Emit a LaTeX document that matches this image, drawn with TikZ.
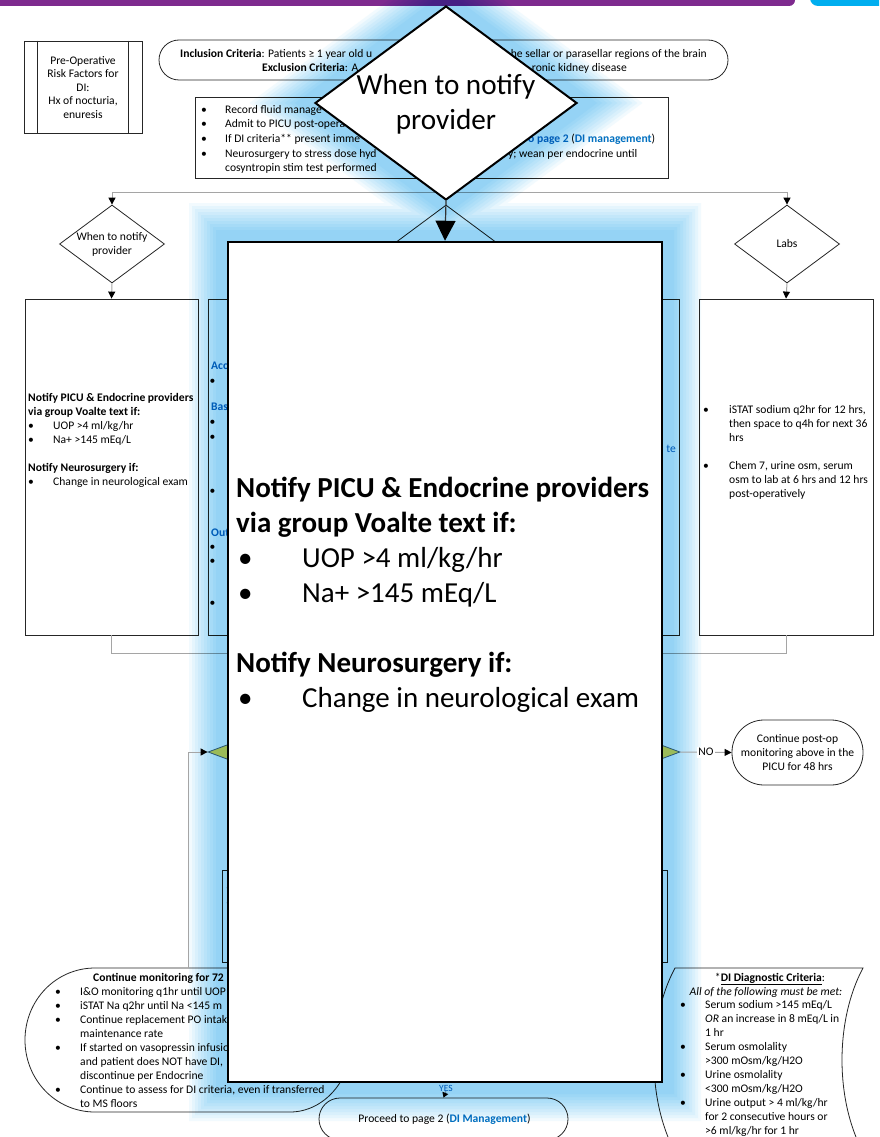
\documentclass[tikz,border=0pt]{standalone}
\usepackage{fontspec}
\setmainfont{Carlito}
\usetikzlibrary{shapes.geometric,arrows.meta}

\definecolor{linkblue}{RGB}{0,112,192}
\definecolor{barpurple}{RGB}{126,42,142}
\definecolor{barcyan}{RGB}{0,174,239}
\definecolor{glowblue}{RGB}{213,241,253}
\definecolor{connector}{RGB}{165,165,165}
\definecolor{decgreen}{RGB}{155,187,89}
\definecolor{decedge}{RGB}{40,85,115}

\newcommand{\fsmall}{\fontsize{11.6}{14}\selectfont}
\newcommand{\ftiny}{\fontsize{9.5}{11}\selectfont}
\newcommand{\fbig}{\fontsize{29}{35}\selectfont}
\newcommand{\fhuge}{\fontsize{29.2}{35}\selectfont}
\newcommand{\bulitem}[2]{\makebox[#1][l]{\textbullet}#2}

\tikzset{
  shapeline/.style={draw=black!85, line width=0.8pt, inner sep=0pt},
  dia/.style={shapeline, diamond},
  txt/.style={inner sep=0pt, anchor=base west, font=\fsmall},
  ctxt/.style={inner sep=0pt, anchor=base, font=\fsmall},
  etxt/.style={inner sep=0pt, anchor=base east, font=\fsmall},
  bigtxt/.style={inner sep=0pt, anchor=base west, font=\fbig},
  conn/.style={draw=connector, line width=1pt},
  arrowhd/.style={-{Triangle[length=7pt,width=7pt,color=black]}},
}

\begin{document}
\begin{tikzpicture}[x=1pt,y=-1pt]
\useasboundingbox (0,0) rectangle (879,1137);
\clip (0,0) rectangle (879,1137);
\fill[white] (0,0) rectangle (879,1137);

% header bars
\fill[barpurple, rounded corners=6pt] (-10,-10) rectangle (795,6);
\fill[barcyan, rounded corners=8pt] (810,-10) rectangle (889,6);

% ---------------- flowchart page ----------------
% pre-operative risk factors
\node[shapeline, minimum width=118pt, minimum height=92pt] (preop) at (83,87) {};
\draw[shapeline] ([xshift=14pt]preop.north west) -- ([xshift=14pt]preop.south west);
\draw[shapeline] ([xshift=-14pt]preop.north east) -- ([xshift=-14pt]preop.south east);
\foreach \y/\t [count=\i] in {64.5/Pre-Operative, 78/{Risk Factors for}, 91.5/DI:, 105/{Hx of nocturia,}, 118.5/enuresis}
  \node[ctxt] (pre\i) at (83,\y) {\t};

% inclusion / exclusion criteria
\node[shapeline, rounded corners=20pt, minimum width=569pt, minimum height=40pt] (incl) at (443.5,60) {};
\node[txt] (inca) at (180,57.5) {\textbf{Inclusion Criteria}: Patients ≥ 1 year old u};
\node[etxt] (incb) at (707,57.5) {he sellar or parasellar regions of the brain};
\node[txt] (exca) at (262,71.5) {\textbf{Exclusion Criteria}: A};
\node[etxt] (excb) at (627,71.5) {ronic kidney disease};

% initial orders
\node[shapeline, minimum width=473pt, minimum height=81pt] (plan) at (431.5,137.5) {};
\node[txt] (pl1) at (201,113.5) {\bulitem{24pt}{Record fluid manage}};
\node[txt] (pl2) at (201,127.5) {\bulitem{24pt}{Admit to PICU post-opera}};
\node[txt] (pl3) at (201,142.5) {\bulitem{24pt}{If DI criteria** present imme}};
\node[txt] (pl3b) at (528,142.5) {\textcolor{linkblue}{\textbf{o page 2}} (\textcolor{linkblue}{\textbf{DI management}})};
\node[txt] (pl4) at (201,157.5) {\bulitem{24pt}{Neurosurgery to stress dose hyd}};
\node[txt] (pl4b) at (508,157.5) {y; wean per endocrine until};
\node[txt] (pl5) at (225,171.5) {cosyntropin stim test performed};

% three branches
\node[dia, minimum width=105pt, minimum height=78pt] (d1) at (112,244) {};
\node[ctxt] (d1a) at (112,240.5) {When to notify};
\node[ctxt] (d1b) at (112,254.5) {provider};
\node[dia, minimum width=105pt, minimum height=78pt] (d2) at (446,244) {};
\node[dia, minimum width=105pt, minimum height=78pt] (d3) at (787,244) {};
\node[ctxt] (d3a) at (787,247.5) {Labs};

\coordinate (busL) at (112,192);
\coordinate (busR) at (787,192);
\draw[conn] (busL) -- (busR);
\draw[conn, arrowhd] (busL) -- (d1.north);
\draw[conn, arrowhd] (busR) -- (d3.north);

\node[shapeline, minimum width=173pt, minimum height=336pt] (box1) at (111.5,467) {};
\node[shapeline, minimum width=471pt, minimum height=336pt] (box2) at (443.5,467) {};
\node[shapeline, minimum width=174pt, minimum height=336pt] (box3) at (786,467) {};
\draw[conn, arrowhd] (d1.south) -- (box1.north);
\draw[conn, arrowhd] (d3.south) -- (box3.north);
\draw[conn] (box1.south) -- ++(0,18) -| (box3.south);

% notification box
\node[txt] (n1) at (28,401) {\textbf{Notify PICU \& Endocrine providers}};
\node[txt] (n2) at (28,415) {\textbf{via group Voalte text if:}};
\node[txt] (n3) at (28,429) {\bulitem{25pt}{UOP >4 ml/kg/hr}};
\node[txt] (n4) at (28,443) {\bulitem{25pt}{Na+ >145 mEq/L}};
\node[txt] (n5) at (28,471) {\textbf{Notify Neurosurgery if:}};
\node[txt] (n6) at (28,485) {\bulitem{25pt}{Change in neurological exam}};

% fluid box (partly covered)
\node[txt, text=linkblue, font=\fsmall\bfseries] (acc) at (211,369.5) {Acc};
\node[txt, text=linkblue, font=\fsmall\bfseries] (bas) at (211,410.5) {Bas};
\node[txt, text=linkblue, font=\fsmall\bfseries] (out) at (211,536) {Out};
\foreach \y [count=\i] in {384, 425, 440, 494, 550, 564, 606}
  \node[txt] (fb\i) at (209.5,\y) {\textbullet};
\node[etxt, text=linkblue] (te) at (676,452.5) {te};

% labs box
\node[txt] (lb1) at (703,413) {\bulitem{26pt}{iSTAT sodium q2hr for 12 hrs,}};
\node[txt] (lb2) at (729,427) {then space to q4h for next 36};
\node[txt] (lb3) at (729,441) {hrs};
\node[txt] (lb4) at (703,469) {\bulitem{26pt}{Chem 7, urine osm, serum}};
\node[txt] (lb5) at (729,483) {osm to lab at 6 hrs and 12 hrs};
\node[txt] (lb6) at (729,497) {post-operatively};

% outcomes
\node[shapeline, rounded corners=32pt, minimum width=131pt, minimum height=65pt] (post) at (797.5,752.5) {};
\node[ctxt] (po1) at (797.5,742.5) {Continue post-op};
\node[ctxt] (po2) at (797.5,756.5) {monitoring above in the};
\node[ctxt] (po3) at (797.5,770.5) {PICU for 48 hrs};

\node[shapeline, minimum width=445pt, minimum height=92pt] (box4) at (444.5,916) {};
\node[txt] (b4a) at (226,891.5) {\textbullet};
\node[txt] (b4b) at (226,906.5) {\textbullet};

% continue monitoring
\draw[shapeline] (95,968) -- (290,968) .. controls (324,968) and (352,1000) .. (352,1040)
  .. controls (352,1080) and (324,1112) .. (290,1112) -- (95,1112)
  .. controls (56,1112) and (25,1080) .. (25,1040)
  .. controls (25,1000) and (56,968) .. (95,968) -- cycle;
\coordinate (contTop) at (188,968);
\node[txt] (cm0) at (93,981) {\textbf{Continue monitoring for 72}};
\node[txt] (cm1) at (55,995) {\bulitem{25pt}{I\&O monitoring q1hr until UOP}};
\node[txt] (cm2) at (55,1009) {\bulitem{25pt}{iSTAT Na q2hr until Na <145 m}};
\node[txt] (cm3) at (55,1023) {\bulitem{25pt}{Continue replacement PO intak}};
\node[txt] (cm4) at (80,1037) {maintenance rate};
\node[txt] (cm5) at (55,1051) {\bulitem{25pt}{If started on vasopressin infusio}};
\node[txt] (cm6) at (80,1065) {and patient does NOT have DI,};
\node[txt] (cm7) at (80,1079) {discontinue per Endocrine};
\node[txt] (cm8) at (55,1093) {\bulitem{25pt}{Continue to assess for DI criteria, even if transferred}};
\node[txt] (cm9) at (80,1107) {to MS floors};

% DI diagnostic criteria
\draw[shapeline] (675,968) -- (863,968) .. controls (835,1020) and (835,1100) .. (863,1152)
  -- (675,1152) .. controls (647,1100) and (647,1020) .. (675,968) -- cycle;
\node[ctxt] (dc0) at (770,981) {*\underline{\textbf{DI Diagnostic Criteria}}:};
\node[ctxt] (dc1) at (766,995.5) {\textit{All of the following must be met:}};
\node[txt] (dc2) at (680,1008) {\bulitem{25pt}{Serum sodium >145 mEq/L}};
\node[txt] (dc3) at (705,1022) {\textit{OR} an increase in 8 mEq/L in};
\node[txt] (dc4) at (705,1036) {1 hr};
\node[txt] (dc5) at (680,1050) {\bulitem{25pt}{Serum osmolality}};
\node[txt] (dc6) at (705,1064) {>300 mOsm/kg/H2O};
\node[txt] (dc7) at (680,1078) {\bulitem{25pt}{Urine osmolality}};
\node[txt] (dc8) at (705,1092) {<300 mOsm/kg/H2O};
\node[txt] (dc9) at (680,1106) {\bulitem{25pt}{Urine output > 4 ml/kg/hr}};
\node[txt] (dc10) at (705,1120) {for 2 consecutive hours or};
\node[txt] (dc11) at (705,1134) {>6 ml/kg/hr for 1 hr};

% proceed
\node[shapeline, rounded corners=21pt, minimum width=249pt, minimum height=42pt] (proceed) at (443.5,1119) {};
\node[ctxt] (pr) at (444.5,1122.5) {Proceed to page 2 (\textcolor{linkblue}{\textbf{DI Management}})};
\node[ctxt, font=\ftiny, text=linkblue] (yes) at (446,1091) {YES};
\draw[conn, -{Triangle[length=5pt,width=6pt,color=black]}] (yes.south) -- (proceed.north);

% ---------------- highlight glow ----------------
\begin{scope}[blend mode=multiply]
\foreach \m in {39,36,...,12} {
  \fill[glowblue, opacity=0.3]
    (228-\m,242-\m) -- (662+\m,242-\m) -- (662+\m,1082+\m) -- (228-\m,1082+\m) -- cycle
    (446,6-1.24*\m) -- (577+1.68*\m,103) -- (446,200+1.24*\m) -- (315-1.68*\m,103) -- cycle;
}
\end{scope}

% decision (its fill keeps its own colour)
\node[diamond, draw=decedge, line width=0.8pt, inner sep=0pt, fill=decgreen,
      minimum width=472pt, minimum height=176pt] (gd) at (444,752) {};
\draw[conn, arrowhd] (contTop) |- (gd.west);
\draw[conn, arrowhd] (gd.east) -- node[fill=white, inner sep=1.5pt, font=\fsmall, text=black] (no) {NO} (post.west);

% ---------------- enlarged step ----------------
\node[diamond, draw=black, line width=2pt, fill=white, inner sep=0pt,
      minimum width=262pt, minimum height=194pt] (bigd) at (446,103) {};
\node[inner sep=0pt, anchor=base, font=\fhuge] (bd1) at (446,95) {When to notify};
\node[inner sep=0pt, anchor=base, font=\fhuge] (bd2) at (446,130) {provider};
\node[draw=black, line width=2.5pt, fill=white, minimum width=434pt, minimum height=840pt] (bigbox) at (445,662) {};
\draw[black!80, line width=1.2pt, -{Triangle[length=20pt,width=20pt,color=black]}] (bigd.south) -- (bigbox.north);

\node[bigtxt] (bt1) at (236,497) {\textbf{Notify PICU \& Endocrine providers}};
\node[bigtxt] (bt2) at (236,532) {\textbf{via group Voalte text if:}};
\node[bigtxt] (bt3) at (238,567) {\bulitem{64pt}{UOP >4 ml/kg/hr}};
\node[bigtxt] (bt4) at (238,602) {\bulitem{64pt}{Na+ >145 mEq/L}};
\node[bigtxt] (bt5) at (236,672) {\textbf{Notify Neurosurgery if:}};
\node[bigtxt] (bt6) at (238,707) {\bulitem{64pt}{Change in neurological exam}};
\end{tikzpicture}
\end{document}
